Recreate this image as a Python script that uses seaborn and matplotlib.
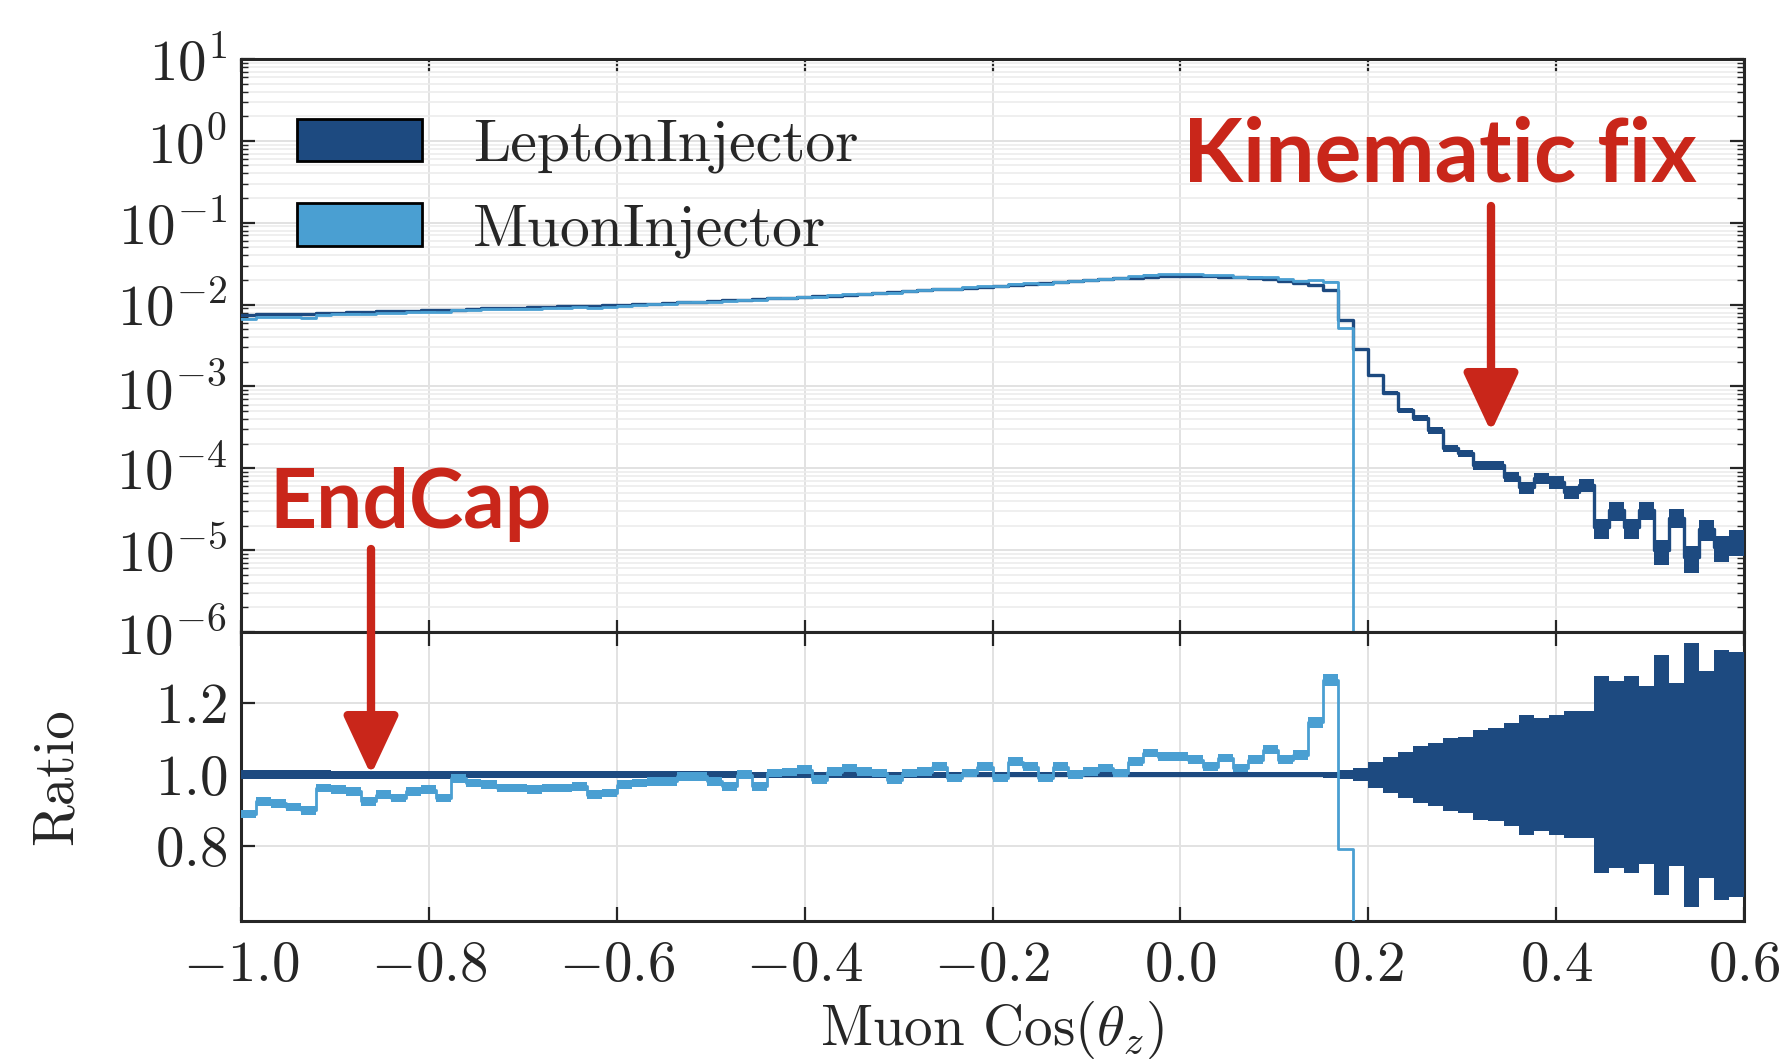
import numpy as np
import pandas as pd
import matplotlib
matplotlib.use("Agg")
import matplotlib.pyplot as plt
import seaborn as sns
from matplotlib.patches import Patch
from matplotlib.ticker import LogLocator, NullFormatter, FixedLocator

# ---------------- data ----------------
x_range = (-1.0, 0.6)
n_bins = 100

series_names = ["LeptonInjector", "MuonInjector"]

# LeptonInjector normalised rate per bin
li_vals = [
    7.5e-3, 7.6e-3, 7.6e-3, 7.7e-3, 7.7e-3, 7.8e-3, 7.9e-3, 8.1e-3, 8.2e-3, 8.3e-3,
    8.4e-3, 8.4e-3, 8.5e-3, 8.6e-3, 8.7e-3, 8.9e-3, 9.0e-3, 9.1e-3, 9.2e-3, 9.3e-3,
    9.4e-3, 9.5e-3, 9.6e-3, 9.7e-3, 9.8e-3, 1.00e-2, 1.01e-2, 1.03e-2, 1.05e-2, 1.07e-2,
    1.09e-2, 1.11e-2, 1.13e-2, 1.15e-2, 1.17e-2, 1.19e-2, 1.21e-2, 1.23e-2, 1.26e-2, 1.29e-2,
    1.32e-2, 1.35e-2, 1.38e-2, 1.41e-2, 1.45e-2, 1.49e-2, 1.53e-2, 1.57e-2, 1.61e-2, 1.65e-2,
    1.69e-2, 1.73e-2, 1.77e-2, 1.82e-2, 1.87e-2, 1.92e-2, 1.98e-2, 2.04e-2, 2.09e-2, 2.14e-2,
    2.19e-2, 2.23e-2, 2.25e-2, 2.24e-2, 2.22e-2, 2.19e-2, 2.16e-2, 2.10e-2, 2.03e-2, 1.95e-2,
    1.86e-2, 1.72e-2, 1.50e-2, 6.5e-3, 2.9e-3, 1.37e-3, 8.3e-4, 5.1e-4, 4.1e-4, 2.9e-4,
    1.77e-4, 1.52e-4, 1.10e-4, 1.10e-4, 7.9e-5, 5.9e-5, 7.6e-5, 6.8e-5, 5.1e-5, 6.3e-5,
    1.9e-5, 3.1e-5, 1.9e-5, 3.1e-5, 1.0e-5, 2.5e-5, 8.3e-6, 1.8e-5, 1.1e-5, 1.3e-5,
]

# LeptonInjector relative statistical error per bin
li_rel_err = [
    0.012, 0.012, 0.012, 0.012, 0.012, 0.012, 0.011, 0.011, 0.011, 0.011,
    0.011, 0.011, 0.011, 0.011, 0.011, 0.010, 0.010, 0.010, 0.010, 0.010,
    0.010, 0.010, 0.010, 0.010, 0.010, 0.0095, 0.0095, 0.0095, 0.0095, 0.0095,
    0.0092, 0.0092, 0.0092, 0.0090, 0.0090, 0.0090, 0.0088, 0.0088, 0.0087, 0.0086,
    0.0085, 0.0084, 0.0083, 0.0082, 0.0081, 0.0080, 0.0079, 0.0078, 0.0077, 0.0076,
    0.0075, 0.0074, 0.0073, 0.0072, 0.0071, 0.0071, 0.0070, 0.0070, 0.0069, 0.0069,
    0.0069, 0.0069, 0.0069, 0.0069, 0.0069, 0.0069, 0.0070, 0.0070, 0.0071, 0.0072,
    0.0074, 0.0077, 0.0082, 0.0126, 0.019, 0.037, 0.050, 0.065, 0.080, 0.089,
    0.103, 0.107, 0.126, 0.130, 0.145, 0.168, 0.159, 0.168, 0.178, 0.178,
    0.276, 0.262, 0.276, 0.250, 0.336, 0.257, 0.370, 0.290, 0.350, 0.344,
]

# MuonInjector / LeptonInjector ratio per bin (MuonInjector empty above cos = 0.184)
mi_ratio = [
    0.890, 0.925, 0.920, 0.910, 0.900, 0.963, 0.958, 0.953, 0.925, 0.944,
    0.935, 0.953, 0.958, 0.935, 0.990, 0.977, 0.972, 0.963, 0.963, 0.958,
    0.963, 0.963, 0.967, 0.944, 0.949, 0.972, 0.977, 0.981, 0.981, 0.995,
    0.995, 0.981, 0.967, 1.000, 0.967, 1.005, 1.008, 1.014, 0.986, 1.009,
    1.019, 1.009, 1.005, 0.986, 1.005, 1.009, 1.023, 0.991, 1.005, 1.023,
    0.991, 1.037, 1.023, 0.991, 1.023, 1.000, 1.009, 1.019, 1.005, 1.037,
    1.061, 1.051, 1.051, 1.042, 1.023, 1.047, 1.019, 1.042, 1.070, 1.042,
    1.056, 1.147, 1.265, 0.793, 0.0, 0.0, 0.0, 0.0, 0.0, 0.0,
    0.0, 0.0, 0.0, 0.0, 0.0, 0.0, 0.0, 0.0, 0.0, 0.0,
    0.0, 0.0, 0.0, 0.0, 0.0, 0.0, 0.0, 0.0, 0.0, 0.0,
]

# error band half-width of the ratio MuonInjector / LeptonInjector
mi_ratio_err = [0.012] * 70 + [0.014, 0.015, 0.016, 0.020] + [0.0] * 26

x_ticks = [-1.0, -0.8, -0.6, -0.4, -0.2, 0.0, 0.2, 0.4, 0.6]
ratio_ticks = [0.8, 1.0, 1.2]
ratio_lim = (0.59, 1.40)
top_lim = (1e-6, 1e1)

# ---------------- derived arrays ----------------
edges = np.linspace(x_range[0], x_range[1], n_bins + 1)
bin_list = [float(e) for e in edges]
centers = 0.5 * (edges[:-1] + edges[1:])
li = np.array(li_vals)
li_e = np.array(li_rel_err)
rat = np.array(mi_ratio)
rat_e = np.array(mi_ratio_err)
mi = li * rat
has_mi = rat > 0

df = pd.DataFrame({"x": centers, "li": li, "mi": mi, "one": np.ones(n_bins), "rat": rat})

def ext(a):
    return np.append(a, a[-1])

# ---------------- style ----------------
dark = "#1d4a80"
light = "#4a9fd2"
red = "#c9261a"
grid_c = "#e2e2e2"
ink = "#262626"

sns.set_theme(style="whitegrid")
plt.rcParams.update({
    "font.family": ["cmr10", "DejaVu Serif"],
    "mathtext.fontset": "cm",
    "axes.formatter.use_mathtext": True,
    "axes.unicode_minus": True,
    "axes.edgecolor": ink,
    "axes.linewidth": 2.2,
    "axes.facecolor": "white",
    "grid.color": grid_c,
    "grid.linewidth": 1.4,
    "xtick.direction": "in",
    "ytick.direction": "in",
    "xtick.color": ink,
    "ytick.color": ink,
    "xtick.labelcolor": ink,
    "ytick.labelcolor": ink,
    "text.color": ink,
    "axes.labelcolor": ink,
})

fig = plt.figure(figsize=(17.92, 10.60), dpi=100)
L, W = 241 / 1792, (1744 - 241) / 1792
ax_top = fig.add_axes([L, 1 - 632 / 1060, W, (632 - 59) / 1060])
ax_rat = fig.add_axes([L, 1 - 921 / 1060, W, (921 - 632) / 1060])

def step_line(ax, col, color, lw, z):
    sns.histplot(data=df, x="x", weights=col, bins=bin_list, element="step", fill=False,
                 color=color, linewidth=lw, ax=ax, zorder=z)

# ---------------- top panel ----------------
ax_top.fill_between(edges, ext(li * (1 - li_e)), ext(li * (1 + li_e)), step="post",
                    color=dark, lw=0, zorder=3)
step_line(ax_top, "li", dark, 2.4, 4)
safe_rat = np.where(has_mi, rat, 1.0)
mi_lo = np.where(has_mi, mi * (1 - rat_e / safe_rat), np.nan)
mi_hi = np.where(has_mi, mi * (1 + rat_e / safe_rat), np.nan)
ax_top.fill_between(edges, ext(mi_lo), ext(mi_hi), step="post", color=light, lw=0, zorder=5)
step_line(ax_top, "mi", light, 2.0, 6)

ax_top.set_yscale("log")
ax_top.set_ylim(*top_lim)
ax_top.set_xlim(*x_range)
ax_top.yaxis.set_major_locator(LogLocator(base=10, numticks=20))
ax_top.yaxis.set_minor_locator(LogLocator(base=10, subs=np.arange(2, 10), numticks=100))
ax_top.yaxis.set_minor_formatter(NullFormatter())
ax_top.xaxis.set_major_locator(FixedLocator(x_ticks))
ax_top.grid(True, which="major", axis="both", color=grid_c, lw=1.4)
ax_top.grid(True, which="minor", axis="y", color="#ececec", lw=1.2)
ax_top.set_axisbelow(True)
ax_top.tick_params(axis="x", which="both", labelbottom=False, top=True, bottom=True,
                   length=9, width=1.6)
ax_top.tick_params(axis="y", which="major", left=True, right=True, length=10, width=1.6,
                   labelsize=41, pad=10)
ax_top.tick_params(axis="y", which="minor", left=True, right=True, length=5, width=1.0)
ax_top.set_xlabel("")
ax_top.set_ylabel("")

handles = [Patch(facecolor=dark, edgecolor="black", lw=2.0),
           Patch(facecolor=light, edgecolor="black", lw=2.0)]
ax_top.legend(handles, series_names, loc="upper left", bbox_to_anchor=(0.037, 0.896),
              frameon=False, fontsize=43, handlelength=2.1, handleheight=0.72,
              handletextpad=0.85, labelspacing=0.50, borderpad=0, borderaxespad=0)

# ---------------- ratio panel ----------------
ax_rat.fill_between(edges, ext(1 - li_e), ext(1 + li_e), step="post", color=dark, lw=0, zorder=3)
step_line(ax_rat, "one", dark, 2.4, 4)
r_lo = np.where(has_mi, rat - rat_e, np.nan)
r_hi = np.where(has_mi, rat + rat_e, np.nan)
ax_rat.fill_between(edges, ext(r_lo), ext(r_hi), step="post", color=light, lw=0, zorder=5)
step_line(ax_rat, "rat", light, 2.0, 6)

ax_rat.set_xlim(*x_range)
ax_rat.set_ylim(*ratio_lim)
ax_rat.xaxis.set_major_locator(FixedLocator(x_ticks))
ax_rat.yaxis.set_major_locator(FixedLocator(ratio_ticks))
ax_rat.grid(True, which="major", axis="both", color=grid_c, lw=1.4)
ax_rat.set_axisbelow(True)
ax_rat.tick_params(axis="x", which="major", top=True, bottom=True, length=10, width=1.6,
                   labelsize=41, pad=14)
ax_rat.tick_params(axis="y", which="major", left=True, right=True, length=10, width=1.6,
                   labelsize=41, pad=10)
ax_rat.xaxis.set_major_formatter(matplotlib.ticker.FormatStrFormatter("$%.1f$"))
ax_rat.yaxis.set_major_formatter(matplotlib.ticker.FormatStrFormatter("$%.1f$"))
ax_rat.set_xlabel(r"Muon Cos$(\theta_z)$", fontsize=41, labelpad=5)
ax_rat.set_ylabel("Ratio", fontsize=41, labelpad=52)

# ---------------- annotations ----------------
ann_kw = dict(family=["Lato", "Noto Sans"], weight="bold", color=red)
fig.text(1183 / 1792, 1 - 182 / 1060, "Kinematic fix", ha="left", va="baseline",
         fontsize=63, **ann_kw)
fig.text(269 / 1792, 1 - 528 / 1060, "EndCap", ha="left", va="baseline",
         fontsize=59, **ann_kw)

arrow_kw = dict(arrowstyle="-|>,head_length=0.9,head_width=0.42", color=red, lw=6,
                mutation_scale=40, shrinkA=0, shrinkB=0)
fig.add_artist(matplotlib.patches.FancyArrowPatch(
    (1491 / 1792, 1 - 206 / 1060), (1491 / 1792, 1 - 432 / 1060),
    transform=fig.transFigure, **arrow_kw))
fig.add_artist(matplotlib.patches.FancyArrowPatch(
    (371 / 1792, 1 - 549 / 1060), (371 / 1792, 1 - 775 / 1060),
    transform=fig.transFigure, **arrow_kw))

fig.savefig("out.png", dpi=100)
